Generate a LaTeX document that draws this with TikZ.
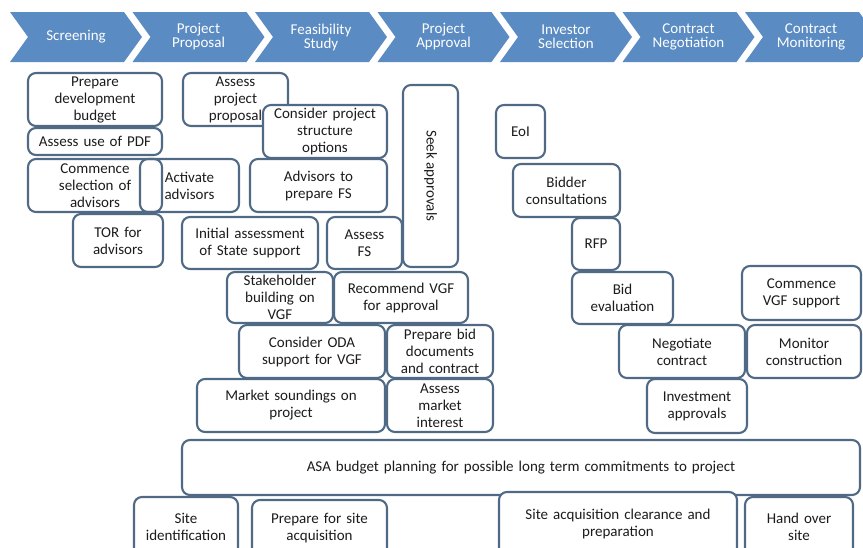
\documentclass[tikz,border=0pt]{standalone}
\usepackage{fontspec}
\setmainfont{Carlito}
\definecolor{chev}{RGB}{90,139,195}
\definecolor{edge}{RGB}{80,106,134}
\definecolor{txt}{RGB}{28,28,28}
\tikzset{
  box/.style={draw=edge, line width=2.1pt, rounded corners=8pt, fill=white,
    align=center, text=txt, inner xsep=3pt, inner ysep=0pt,
    font=\fontsize{15}{17}\selectfont},
  nofill/.style={fill=none},
  chevtext/.style={text=white, align=center, font=\fontsize{15}{14}\selectfont},
  chevshape/.style={fill=chev, draw=none}
}
\newcommand\bx[7][]{%
  \pgfmathsetmacro\bxcx{(#3+#5)/2}%
  \pgfmathsetmacro\bxcy{(#4+#6)/2}%
  \pgfmathsetmacro\bxw{#5-#3}%
  \pgfmathsetmacro\bxh{#6-#4}%
  \pgfmathsetmacro\bxtw{#5-#3-6}%
  \node[box,minimum width=\bxw pt,minimum height=\bxh pt,text width=\bxtw pt,#1] (#2) at (\bxcx,\bxcy) {#7};}
\newcommand\chev[3]{%
  \pgfmathsetmacro\chx{#1}%
  \fill[chevshape] (\chx,12) -- ++(114,0) -- ++(18,25) -- ++(-18,25) -- ++(-114,0) -- ++(18,-25) -- cycle;
  \node[chevtext] (#2) at (\chx+66,37) {#3};}
\begin{document}
\begin{tikzpicture}[x=1pt,y=-1pt]
\useasboundingbox (0,0) rectangle (863,547);
\begin{scope}
\clip (0,0) rectangle (863,547);
% header chevrons
\chev{10}{h1}{Screening}
\chev{132.5}{h2}{Project\\Proposal}
\chev{255}{h3}{Feasibility\\Study}
\chev{377.5}{h4}{Project\\Approval}
\chev{500}{h5}{Investor\\Selection}
\chev{622.5}{h6}{Contract\\Negotiation}
\chev{745}{h7}{Contract\\Monitoring}
% screening
\bx{prep}{28}{73}{162}{126}{Prepare\\development\\budget}
\bx{pdf}{28}{128}{162}{155}{Assess use of PDF}
\bx{comm}{28}{159}{162}{212}{Commence\\selection of\\advisors}
\bx[nofill]{act}{140}{159}{239}{212}{Activate\\advisors}
\bx{tor}{73}{214}{163}{267}{TOR for\\advisors}
% project proposal / feasibility
\bx{app}{183}{73}{288}{126}{Assess\\project\\proposal}
\bx{cps}{263}{105}{387}{158}{Consider project\\structure\\options}
\bx{adv}{250}{159}{387}{212}{Advisors to\\prepare FS}
\bx{ias}{182}{217}{318}{269}{Initial assessment\\of State support}
\bx{afs}{327}{217}{402}{269}{Assess\\FS}
\node[box, rotate=-90, minimum width=182pt, minimum height=55pt, inner sep=0pt] (seek) at (430.5,176) {Seek approvals};
\bx{stk}{227}{272}{333}{323}{Stakeholder\\building on\\VGF}
\bx{rvgf}{334}{272}{468}{323}{Recommend VGF\\for approval}
\bx{oda}{239}{325}{385}{378}{Consider ODA\\support for VGF}
\bx{pbd}{387}{325}{493}{378}{Prepare bid\\documents\\and contract}
\bx{msp}{197}{379}{385}{432}{Market soundings on\\project}
\bx{ami}{387}{379}{493}{432}{Assess\\market\\interest}
% investor selection / negotiation / monitoring
\bx{eoi}{496}{105}{545}{158}{EoI}
\bx{bid}{513}{164}{620}{217}{Bidder\\consultations}
\bx{rfp}{572}{218}{620}{270}{RFP}
\bx{bev}{572}{272}{673}{324}{Bid\\evaluation}
\bx{neg}{619}{325}{745}{378}{Negotiate\\contract}
\bx{inv}{647}{379}{747}{433}{Investment\\approvals}
\bx{cvgf}{742}{266}{861}{320}{Commence\\VGF support}
\bx{mon}{747}{325}{861}{378}{Monitor\\construction}
% bottom rows
\bx{asa}{182}{440}{860}{495}{ASA budget planning for possible long term commitments to project}
\bx{site}{134}{497}{238}{556}{Site\\identification}
\bx{psa}{252}{500}{387}{556}{Prepare for site\\acquisition}
\bx{sacp}{499}{492}{737}{556}{Site acquisition clearance and\\preparation}
\bx{hos}{745}{497}{853}{556}{Hand over\\site}
\end{scope}
\end{tikzpicture}
\end{document}
